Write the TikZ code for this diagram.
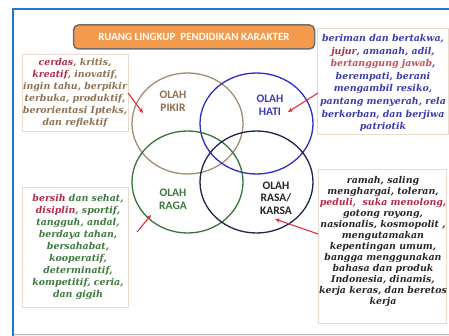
\documentclass[tikz,border=0pt]{standalone}
\usepackage{fontspec}
\setmainfont{Carlito}
\newfontfamily\boxfont{DejaVu Serif}
\usetikzlibrary{shapes.geometric,arrows.meta}
\definecolor{frameblue}{HTML}{1E78D2}
\definecolor{titleorange}{HTML}{F39A4C}
\definecolor{titleborder}{HTML}{6E6E6E}
\definecolor{tan}{HTML}{8E7152}
\definecolor{tanline}{HTML}{A38D70}
\definecolor{crim}{HTML}{B22A48}
\definecolor{lightcrim}{HTML}{C4505A}
\definecolor{hatiblue}{HTML}{3B3BB0}
\definecolor{hatiline}{HTML}{2E2EC4}
\definecolor{ragagreen}{HTML}{3E783E}
\definecolor{ragaline}{HTML}{357535}
\definecolor{rasaline}{HTML}{22224E}
\definecolor{rasatext}{HTML}{262626}
\definecolor{arrowred}{HTML}{E0303C}
\definecolor{boxedge}{HTML}{EADBCF}
\begin{document}
\begin{tikzpicture}[x=1pt,y=-1pt,
  circ/.style={ellipse,draw,line width=1.3pt,inner sep=0pt},
  lbl/.style={font=\bfseries\fontsize{11.5}{13}\selectfont,align=center,inner sep=0pt},
  txtbox/.style={draw=boxedge,line width=1pt,fill=white,inner sep=0pt},
  boxtxt/.style={font=\boxfont\bfseries\itshape\fontsize{9.4}{12}\selectfont,align=center,inner sep=0pt},
  redarrow/.style={draw=arrowred,line width=1.1pt,-{Stealth[length=5pt,width=4.5pt]}}]
\useasboundingbox (0,0) rectangle (449,336);
\fill[white] (0,0) rectangle (449,336);
% frame
\fill[black!7] (14,334) rectangle (449,336);
\draw[black!25,line width=0.6pt] (14,334) -- (449,334);
\draw[frameblue,line width=2pt] (13,336) -- (13,9) -- (449,9);
% title
\node[draw=titleborder,line width=1.5pt,fill=titleorange,rounded corners=5pt,
  minimum width=241pt,minimum height=24pt,inner sep=0pt,
  text=white,font=\bfseries\fontsize{11}{13}\selectfont] (title) at (194,37)
  {RUANG LINGKUP\ \ PENDIDIKAN KARAKTER};
% circles
\node[circ,draw=tanline,minimum width=111pt,minimum height=101pt] (pikir) at (187.5,123.5) {};
\node[circ,draw=hatiline,minimum width=113pt,minimum height=101pt] (hati) at (256.5,123.5) {};
\node[circ,draw=ragaline,minimum width=111pt,minimum height=102pt] (raga) at (187.5,182) {};
\node[circ,draw=rasaline,minimum width=113pt,minimum height=102pt] (rasa) at (256.5,182) {};
% circle labels
\node[lbl,text=tan] (pikirlbl) at (173,101.5) {OLAH\\PIKIR};
\node[lbl,text=hatiblue] (hatilbl) at (270,105.5) {OLAH\\HATI};
\node[lbl,text=ragagreen] (ragalbl) at (173,199) {OLAH\\RAGA};
\node[lbl,text=rasatext,font=\bfseries\fontsize{11.5}{12.3}\selectfont] (rasalbl) at (276,198) {OLAH\\RASA/\\KARSA};
% text boxes
\node[txtbox,minimum width=106pt,minimum height=77pt] (pikirbox) at (75,93.5) {};
\node[boxtxt,text=tan] (pikirtxt) at (75,92.5)
  {\textcolor{crim}{cerdas}, kritis,\\\textcolor{crim}{kreatif}, inovatif,\\ingin tahu, berpikir\\terbuka, produktif,\\berorientasi Ipteks,\\dan reflektif};
\node[txtbox,minimum width=131pt,minimum height=106pt] (hatibox) at (382.5,82) {};
\node[boxtxt,text=hatiblue,font=\boxfont\bfseries\itshape\fontsize{9.4}{12.6}\selectfont] (hatitxt) at (383,83)
  {beriman dan bertakwa,\\\textcolor{crim}{jujur}, amanah, adil,\\\textcolor{lightcrim}{bertanggung jawab},\\berempati, berani\\mengambil resiko,\\pantang menyerah, rela\\berkorban, dan berjiwa\\patriotik};
\node[txtbox,minimum width=106pt,minimum height=119pt] (ragabox) at (75,247.5) {};
\node[boxtxt,text=ragagreen] (ragatxt) at (78,247)
  {\textcolor{crim}{bersih} dan sehat,\\\textcolor{crim}{disiplin}, sportif,\\tangguh, andal,\\berdaya tahan,\\bersahabat,\\kooperatif,\\determinatif,\\kompetitif, ceria,\\dan gigih};
\node[txtbox,minimum width=128pt,minimum height=153pt] (rasabox) at (382,246.5) {};
\node[boxtxt,text=rasatext,font=\boxfont\bfseries\itshape\fontsize{9.4}{11}\selectfont] (rasatxt) at (383,241.5)
  {ramah, saling\\menghargai, toleran,\\\textcolor{crim}{peduli,\ \ suka menolong,}\\gotong royong,\\nasionalis, kosmopolit ,\\mengutamakan\\kepentingan umum,\\bangga menggunakan\\bahasa dan produk\\Indonesia, dinamis,\\kerja keras, dan beretos\\kerja};
% arrows
\coordinate (a1) at (128,93);  \coordinate (b1) at (143,113);
\coordinate (a2) at (318,93);  \coordinate (b2) at (288,112);
\coordinate (a3) at (137,232); \coordinate (b3) at (151,215);
\coordinate (a4) at (318,234); \coordinate (b4) at (275,219);
\draw[redarrow] (a1) -- (b1);
\draw[redarrow] (a2) -- (b2);
\draw[redarrow] (a3) -- (b3);
\draw[redarrow] (a4) -- (b4);
\end{tikzpicture}
\end{document}
